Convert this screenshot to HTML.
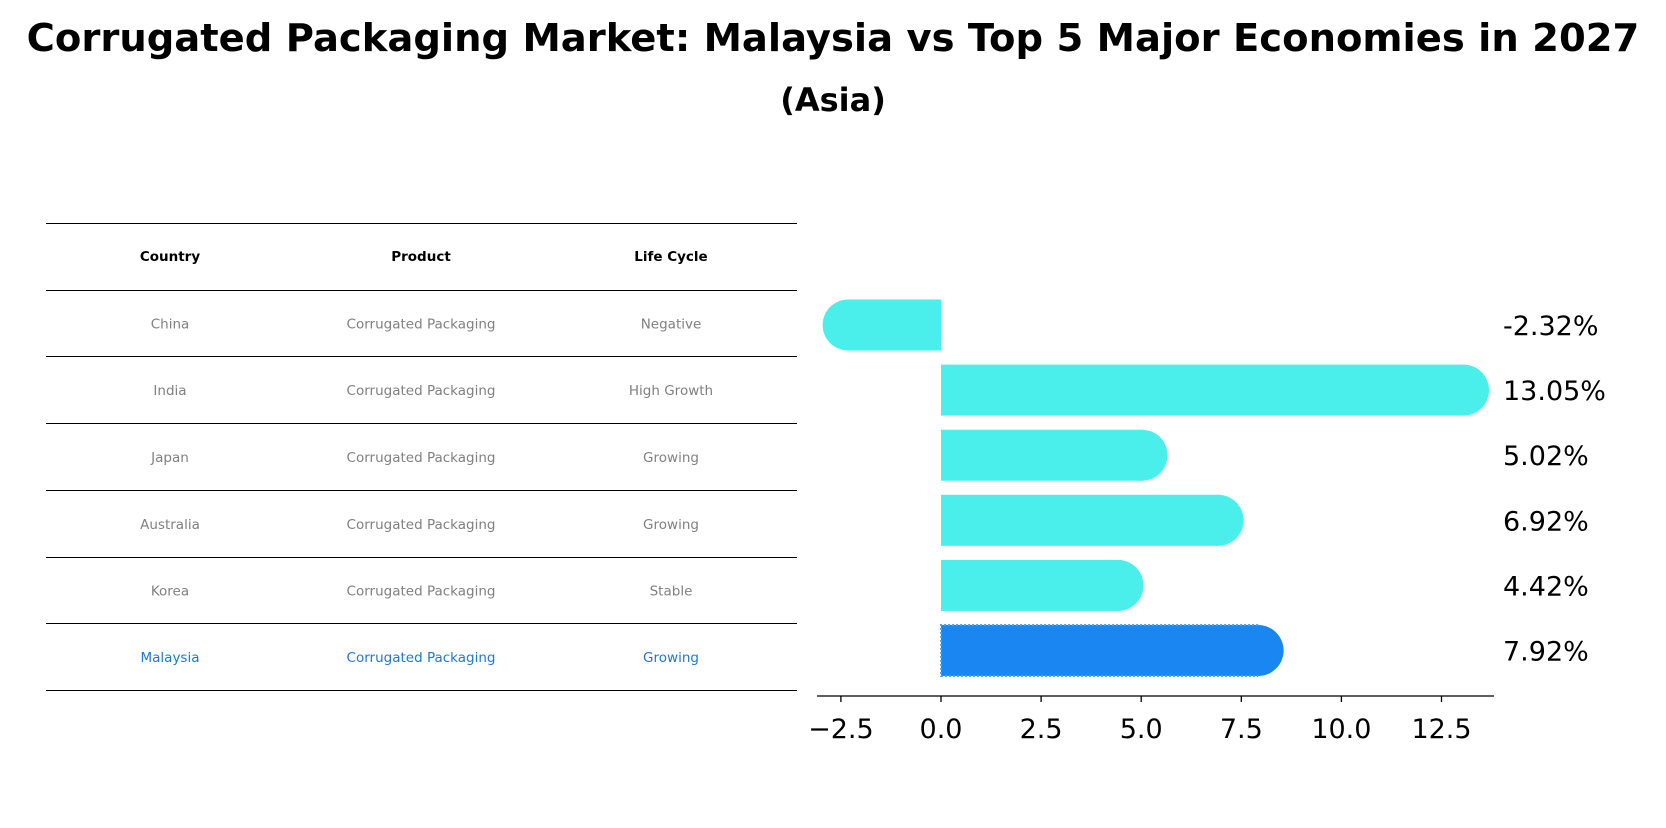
<!DOCTYPE html>
<html><head><meta charset="utf-8"><style>
body{margin:0;background:#fff;font-family:"Liberation Sans","DejaVu Sans",sans-serif;}
</style></head><body>
<svg width="1666" height="823" xmlns="http://www.w3.org/2000/svg" font-family="DejaVu Sans, Liberation Sans, sans-serif">
<text x="833" y="51" text-anchor="middle" font-size="38.5" font-weight="bold">Corrugated Packaging Market: Malaysia vs Top 5 Major Economies in 2027</text>
<text x="833" y="111" text-anchor="middle" font-size="32" font-weight="bold">(Asia)</text>
<g id="table"></g>
<g id="bars"></g>
</svg>
<script>
const countries=["China","India","Japan","Australia","Korea","Malaysia"];
const products=["Corrugated Packaging","Corrugated Packaging","Corrugated Packaging","Corrugated Packaging","Corrugated Packaging","Corrugated Packaging"];
const lifecycles=["Negative","High Growth","Growing","Growing","Stable","Growing"];
const values=[-2.32,13.05,5.02,6.92,4.42,7.92];
const tickLabels=["\u22122.5","0.0","2.5","5.0","7.5","10.0","12.5"];
const tickValues=[-2.5,0,2.5,5,7.5,10,12.5];
const NS="http://www.w3.org/2000/svg";
function mk(t,a,p){const e=document.createElementNS(NS,t);for(const k in a)e.setAttribute(k,a[k]);p.appendChild(e);return e;}
const tbl=document.getElementById('table');
const lineYs=[223.5,290.5,356.5,423.5,490.5,557.5,623.5,690.5];
const colX=[170,421,671];
function line(y){const l=mk('line',{x1:46,x2:797,y1:y,y2:y,stroke:'#000','stroke-width':1},tbl);}
lineYs.forEach(line);
["Country","Product","Life Cycle"].forEach((h,i)=>{const t=mk('text',{x:colX[i],y:261,'text-anchor':'middle','font-size':13.5,'font-weight':'bold'},tbl);t.textContent=h;});
countries.forEach((c,r)=>{const y=(lineYs[r+1]+lineYs[r+2])/2+5;const col=c==="Malaysia"?'#1f77d4':'#808080';
[c,products[r],lifecycles[r]].forEach((v,i)=>{const t=mk('text',{x:colX[i],y:y,'text-anchor':'middle','font-size':13.5,fill:col},tbl);t.textContent=v;});});
const g=document.getElementById('bars');
const x0=941,ppu=40.04;
const X=v=>x0+v*ppu;
const rowY=i=>325+i*65.1;
const bh=51,r=bh/2;
values.forEach((v,i)=>{const cy=rowY(i);const col=i===5?'#1a86f2':'#4aeeea';
const xs=X(0),xe=X(v);
const left=Math.min(xs,xe),w=Math.abs(xe-xs);
const p=mk('rect',{x:left,y:cy-r,width:w,height:bh,fill:col},g);

const c=mk('circle',{cx:xe,cy:cy,r:r,fill:col},g);

if(i===5){const d=mk('path',{d:`M${xe},${cy-r}H${left}V${cy+r}H${xe}`,fill:'none',stroke:'#4aa0ff','stroke-width':2,'stroke-dasharray':'2,2'},g);}
const t=mk('text',{x:1503,y:cy+10,'font-size':27},g);t.textContent=v.toFixed(2)+'%';
});
const ax=mk('line',{x1:817,x2:1494,y1:696,y2:696,stroke:'#000','stroke-width':1.3},g);

tickValues.forEach((v,i)=>{const tk=mk('line',{x1:X(v),x2:X(v),y1:696,y2:702,stroke:'#000','stroke-width':1.3},g);
const t=mk('text',{x:X(v),y:738,'text-anchor':'middle','font-size':27},g);t.textContent=tickLabels[i];});
</script>
</body></html>
